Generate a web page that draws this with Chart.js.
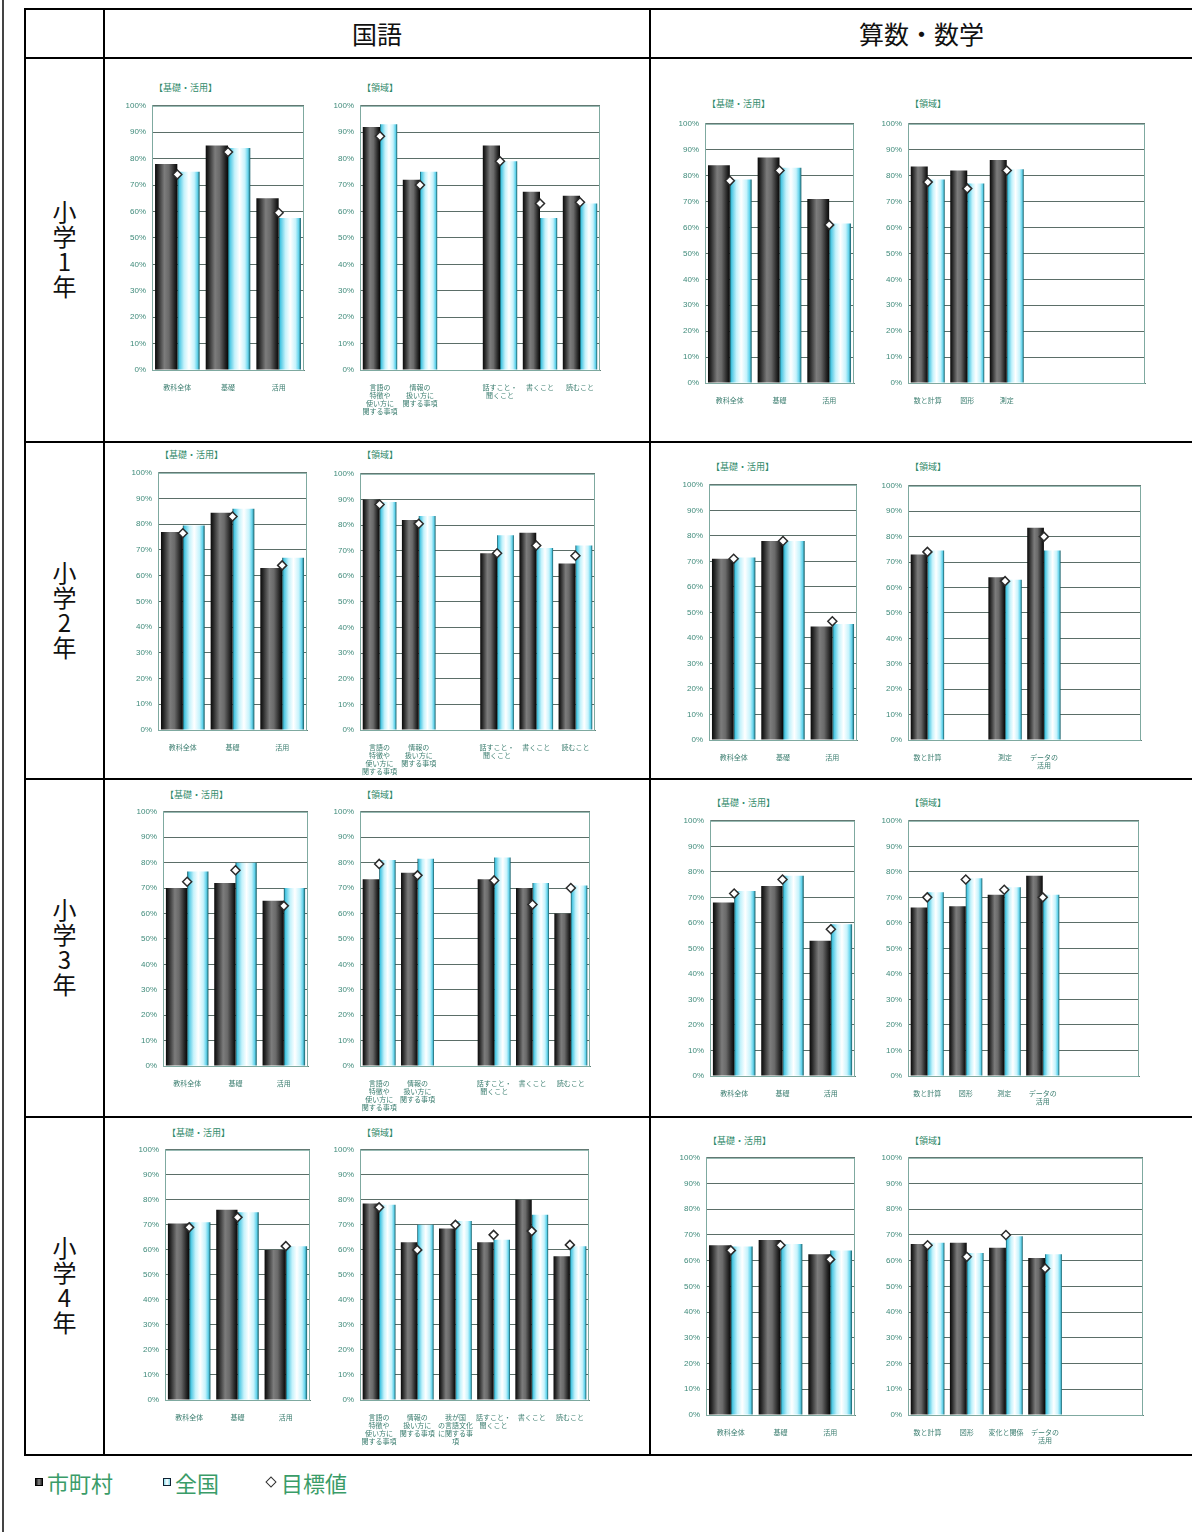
<!DOCTYPE html>
<html lang="ja">
<head>
<meta charset="utf-8">
<script src="https://cdn.jsdelivr.net/npm/chart.js@4.4.1/dist/chart.umd.min.js"></script>
<style>
  body { margin: 0; background: #fff; font-family: 'Noto Sans CJK JP', 'Noto Sans', sans-serif; }
  #page { position: relative; width: 1192px; height: 1532px; overflow: hidden; }
  .ln { position: absolute; background: #000; }
  .head { position: absolute; top: 8px; height: 49px; display: flex; align-items: center; justify-content: center; font-size: 25px; color: #111; }
  .rowlab { position: absolute; left: 26px; width: 77px; display: flex; align-items: center; justify-content: center; }
  .rowlab span { writing-mode: vertical-rl; text-orientation: upright; font-size: 24px; color: #111; letter-spacing: 1px; }
  .ctitle { position: absolute; font-size: 9px; color: #2f8a6a; white-space: nowrap; }
  canvas { position: absolute; }
  .legend { position: absolute; top: 1466px; font-size: 22px; color: #3a9c68; display: flex; align-items: center; }
  .mk { display: inline-block; width: 8px; height: 8px; margin-right: 4px; box-sizing: border-box; }
</style>
</head>
<body>
<div id="page"></div>
<script>
// カテゴリ
const kisoLabels = ['教科全体', '基礎', '活用'];
const kokugoRyoikiLabels = [['言語の', '特徴や', '使い方に', '関する事項'], ['情報の', '扱い方に', '関する事項'], '', ['話すこと・', '聞くこと'], '書くこと', '読むこと'];
const kokugoRyoikiLabels4 = [['言語の', '特徴や', '使い方に', '関する事項'], ['情報の', '扱い方に', '関する事項'], ['我が国', 'の言語文化', 'に関する事', '項'], ['話すこと・', '聞くこと'], '書くこと', '読むこと'];
const sansuRyoikiLabels1 = ['数と計算', '図形', '測定', '', '', ''];
const sansuRyoikiLabels2 = ['数と計算', '', '測定', ['データの', '活用'], '', ''];
const sansuRyoikiLabels3 = ['数と計算', '図形', '測定', ['データの', '活用'], '', ''];
const sansuRyoikiLabels4 = ['数と計算', '図形', '変化と関係', ['データの', '活用'], '', ''];
const yTicks = [0, 10, 20, 30, 40, 50, 60, 70, 80, 90, 100];

// 小学1年
const g1KokugoKisoCity = [78, 85, 65];
const g1KokugoKisoNation = [75, 84, 57.5];
const g1KokugoKisoGoal = [74, 82.5, 59.5];
const g1KokugoRyoikiCity = [92, 72, null, 85, 67.5, 66];
const g1KokugoRyoikiNation = [93, 75, null, 79, 57.5, 63];
const g1KokugoRyoikiGoal = [88.5, 70, null, 79, 63, 63.5];
const g1SansuKisoCity = [84, 87, 71];
const g1SansuKisoNation = [78.5, 83, 61.5];
const g1SansuKisoGoal = [78, 82, 61];
const g1SansuRyoikiCity = [83.5, 82, 86, null, null, null];
const g1SansuRyoikiNation = [78.5, 77, 82.5, null, null, null];
const g1SansuRyoikiGoal = [77.5, 75, 82, null, null, null];

// 小学2年
const g2KokugoKisoCity = [77, 84.5, 63];
const g2KokugoKisoNation = [79.5, 86, 67];
const g2KokugoKisoGoal = [76.5, 83, 64];
const g2KokugoRyoikiCity = [90, 82, null, 69, 77, 65];
const g2KokugoRyoikiNation = [89, 83.5, null, 76, 71, 72];
const g2KokugoRyoikiGoal = [88, 80.5, null, 69, 72, 68];
const g2SansuKisoCity = [71, 78, 44.5];
const g2SansuKisoNation = [71.5, 78, 45.5];
const g2SansuKisoGoal = [71, 78, 46.5];
const g2SansuRyoikiCity = [73, null, 64, 83.5, null, null];
const g2SansuRyoikiNation = [74.5, null, 63, 74.5, null, null];
const g2SansuRyoikiGoal = [74, null, 62.5, 80, null, null];

// 小学3年
const g3KokugoKisoCity = [70, 72, 65];
const g3KokugoKisoNation = [76.5, 80, 70];
const g3KokugoKisoGoal = [72.5, 77, 63];
const g3KokugoRyoikiCity = [73.5, 76, null, 73.5, 70, 60];
const g3KokugoRyoikiNation = [81, 81.5, null, 82, 72, 71];
const g3KokugoRyoikiGoal = [79.5, 75, null, 73, 63.5, 70];
const g3SansuKisoCity = [68, 74.5, 53];
const g3SansuKisoNation = [72.5, 78.5, 59.5];
const g3SansuKisoGoal = [71.5, 77, 57.5];
const g3SansuRyoikiCity = [66, 66.5, 71, 78.5, null, null];
const g3SansuRyoikiNation = [72, 77.5, 74, 71, null, null];
const g3SansuRyoikiGoal = [70, 77, 73, 70, null, null];

// 小学4年
const g4KokugoKisoCity = [70.5, 76, 60];
const g4KokugoKisoNation = [71, 75, 61.5];
const g4KokugoKisoGoal = [69, 73, 61.5];
const g4KokugoRyoikiCity = [78.5, 63, 68.5, 63, 80, 57.5];
const g4KokugoRyoikiNation = [78, 70, 71.5, 64, 74, 61.5];
const g4KokugoRyoikiGoal = [77, 60, 70, 66, 67.5, 62];
const g4SansuKisoCity = [66, 68, 62.5];
const g4SansuKisoNation = [65.5, 66.5, 64];
const g4SansuKisoGoal = [64, 66, 60.5];
const g4SansuRyoikiCity = [66.5, 67, 65, 61, null, null];
const g4SansuRyoikiNation = [67, 63, 69.5, 62.5, null, null];
const g4SansuRyoikiGoal = [66, 61.5, 70, 57, null, null];

const page = document.getElementById('page');

function line(x, y, w, h, color) {
    const d = document.createElement('div');
    d.className = 'ln';
    d.style.cssText = `left:${x}px;top:${y}px;width:${w}px;height:${h}px;` + (color ? `background:${color};` : '');
    page.appendChild(d);
}

// 表の罫線
line(2, 0, 2, 1532, '#444');
[8, 57, 441, 778, 1116, 1454].forEach(y => line(24, y, 1168, 2));
[24, 103, 649].forEach(x => line(x, 8, 2, 1448));

function addHead(text, x, w) {
    const d = document.createElement('div');
    d.className = 'head';
    d.style.left = x + 'px';
    d.style.width = w + 'px';
    d.textContent = text;
    page.appendChild(d);
}
addHead('国語', 105, 544);
addHead('算数・数学', 651, 541);

const rowBands = [[59, 441], [443, 778], [780, 1116], [1118, 1454]];
['小学1年', '小学2年', '小学3年', '小学4年'].forEach((t, i) => {
    const d = document.createElement('div');
    d.className = 'rowlab';
    d.style.top = rowBands[i][0] + 'px';
    d.style.height = (rowBands[i][1] - rowBands[i][0]) + 'px';
    d.innerHTML = `<span>${t}</span>`;
    page.appendChild(d);
});

const darkStops = [[0, '#0a0a0a'], [0.12, '#262626'], [0.42, '#7c7c7c'], [0.62, '#6a6a6a'], [0.88, '#242424'], [1, '#080808']];
const lightStops = [[0, '#0e4f57'], [0.08, '#49c6e2'], [0.3, '#c4f2fb'], [0.52, '#ffffff'], [0.76, '#c6f3fc'], [0.9, '#62d3ec'], [1, '#135a62']];

const gradientBars = {
    id: 'gradientBars',
    beforeDatasetDraw(chart, args) {
        const ds = chart.data.datasets[args.index];
        if (!ds.grad) return;
        const stops = ds.grad === 'dark' ? darkStops : lightStops;
        const ctx = chart.ctx;
        args.meta.data.forEach(el => {
            if (!el.width) return;
            const x0 = el.x - el.width / 2;
            const g = ctx.createLinearGradient(x0, 0, x0 + el.width, 0);
            stops.forEach(s => g.addColorStop(s[0], s[1]));
            el.options = Object.assign({}, el.options, { backgroundColor: g });
        });
    }
};

const plotFrame = {
    id: 'plotFrame',
    beforeDatasetsDraw(chart) {
        const a = chart.chartArea;
        const ctx = chart.ctx;
        ctx.save();
        ctx.strokeStyle = '#7fa9a0';
        ctx.lineWidth = 1;
        ctx.strokeRect(a.left + 0.5, a.top + 0.5, a.right - a.left - 1, a.bottom - a.top);
        ctx.restore();
    }
};

function makeChart(titleText, box, titleY, labels, city, nation, goal, catPct) {
    const [pl, pt, pr, pb] = box;
    const yW = 44, xH = 52, padT = 8, padR = 4;
    const left = pl - yW, top = pt - padT;
    const w = pr - left + padR, h = pb - top + xH;

    const t = document.createElement('div');
    t.className = 'ctitle';
    t.style.left = (pl + 2) + 'px';
    t.style.top = (titleY - 7) + 'px';
    t.textContent = titleText;
    page.appendChild(t);

    const c = document.createElement('canvas');
    c.width = w;
    c.height = h;
    c.style.left = left + 'px';
    c.style.top = top + 'px';
    page.appendChild(c);

    new Chart(c, {
        type: 'bar',
        data: {
            labels: labels,
            datasets: [
                { label: '市町村', data: city, grad: 'dark', backgroundColor: '#555', borderColor: '#000', borderWidth: 0, categoryPercentage: catPct, barPercentage: 1, order: 1 },
                { label: '全国', data: nation, grad: 'light', backgroundColor: '#bdf', borderColor: '#0e4f57', borderWidth: 0, categoryPercentage: catPct, barPercentage: 1, order: 1 },
                { type: 'line', label: '目標値', data: goal, showLine: false, pointStyle: 'rectRot', pointRadius: 4.5, pointBackgroundColor: '#fff', pointBorderColor: '#2b2b2b', pointBorderWidth: 1.5, order: 0 }
            ]
        },
        options: {
            responsive: false,
            animation: false,
            devicePixelRatio: 1,
            layout: { padding: { top: padT, right: padR, left: 0, bottom: 0 } },
            plugins: { legend: { display: false }, tooltip: { enabled: false }, title: { display: false } },
            scales: {
                x: {
                    grid: { display: false },
                    border: { display: true, color: '#5f7f77' },
                    ticks: { autoSkip: false, maxRotation: 0, minRotation: 0, padding: 5, color: '#3c7e70', font: { size: 7, family: "'Noto Sans CJK JP', sans-serif", lineHeight: 1.15 } },
                    afterFit(scale) { scale.height = xH; }
                },
                y: {
                    min: 0,
                    max: 100,
                    afterBuildTicks(scale) { scale.ticks = yTicks.map(v => ({ value: v })); },
                    grid: { color: '#5b6e68', lineWidth: 1, drawTicks: false },
                    border: { display: true, color: '#7fa9a0' },
                    ticks: { padding: 6, color: '#3f8a7a', font: { size: 8, family: "'Liberation Sans', sans-serif" }, callback: v => v + '%' },
                    afterFit(scale) { scale.width = yW; }
                }
            }
        },
        plugins: [plotFrame, gradientBars]
    });
}

const KISO = '【基礎・活用】';
const RYOIKI = '【領域】';

// 小学1年
makeChart(KISO, [152, 103, 306, 370], 88, kisoLabels, g1KokugoKisoCity, g1KokugoKisoNation, g1KokugoKisoGoal, 0.88);
makeChart(RYOIKI, [360, 103, 602, 370], 88, kokugoRyoikiLabels, g1KokugoRyoikiCity, g1KokugoRyoikiNation, g1KokugoRyoikiGoal, 0.86);
makeChart(KISO, [705, 121, 856, 383], 104, kisoLabels, g1SansuKisoCity, g1SansuKisoNation, g1SansuKisoGoal, 0.88);
makeChart(RYOIKI, [908, 121, 1147, 383], 104, sansuRyoikiLabels1, g1SansuRyoikiCity, g1SansuRyoikiNation, g1SansuRyoikiGoal, 0.86);

// 小学2年
makeChart(KISO, [158, 470, 309, 730], 455, kisoLabels, g2KokugoKisoCity, g2KokugoKisoNation, g2KokugoKisoGoal, 0.88);
makeChart(RYOIKI, [360, 471, 597, 730], 455, kokugoRyoikiLabels, g2KokugoRyoikiCity, g2KokugoRyoikiNation, g2KokugoRyoikiGoal, 0.86);
makeChart(KISO, [709, 482, 859, 740], 467, kisoLabels, g2SansuKisoCity, g2SansuKisoNation, g2SansuKisoGoal, 0.88);
makeChart(RYOIKI, [908, 483, 1143, 740], 467, sansuRyoikiLabels2, g2SansuRyoikiCity, g2SansuRyoikiNation, g2SansuRyoikiGoal, 0.86);

// 小学3年
makeChart(KISO, [163, 809, 310, 1066], 795, kisoLabels, g3KokugoKisoCity, g3KokugoKisoNation, g3KokugoKisoGoal, 0.88);
makeChart(RYOIKI, [360, 809, 592, 1066], 795, kokugoRyoikiLabels, g3KokugoRyoikiCity, g3KokugoRyoikiNation, g3KokugoRyoikiGoal, 0.86);
makeChart(KISO, [710, 818, 857, 1076], 803, kisoLabels, g3SansuKisoCity, g3SansuKisoNation, g3SansuKisoGoal, 0.88);
makeChart(RYOIKI, [908, 818, 1141, 1076], 803, sansuRyoikiLabels3, g3SansuRyoikiCity, g3SansuRyoikiNation, g3SansuRyoikiGoal, 0.86);

// 小学4年
makeChart(KISO, [165, 1147, 312, 1400], 1133, kisoLabels, g4KokugoKisoCity, g4KokugoKisoNation, g4KokugoKisoGoal, 0.88);
makeChart(RYOIKI, [360, 1147, 591, 1400], 1133, kokugoRyoikiLabels4, g4KokugoRyoikiCity, g4KokugoRyoikiNation, g4KokugoRyoikiGoal, 0.86);
makeChart(KISO, [706, 1155, 857, 1415], 1141, kisoLabels, g4SansuKisoCity, g4SansuKisoNation, g4SansuKisoGoal, 0.88);
makeChart(RYOIKI, [908, 1155, 1145, 1415], 1141, sansuRyoikiLabels4, g4SansuRyoikiCity, g4SansuRyoikiNation, g4SansuRyoikiGoal, 0.86);

// 凡例
function legendItem(x, text, markStyle) {
    const d = document.createElement('div');
    d.className = 'legend';
    d.style.left = x + 'px';
    d.innerHTML = `<span class="mk" style="${markStyle}"></span>${text}`;
    page.appendChild(d);
}
legendItem(35, '市町村', 'background:linear-gradient(90deg,#111,#888,#222);border:1px solid #000;');
legendItem(163, '全国', 'background:linear-gradient(90deg,#8de,#fff,#8de);border:1.5px solid #123;');
legendItem(267, '目標値', 'width:8px;height:8px;background:#fff;border:1.5px solid #333;transform:rotate(45deg);margin-right:6px;');
</script>
</body>
</html>
